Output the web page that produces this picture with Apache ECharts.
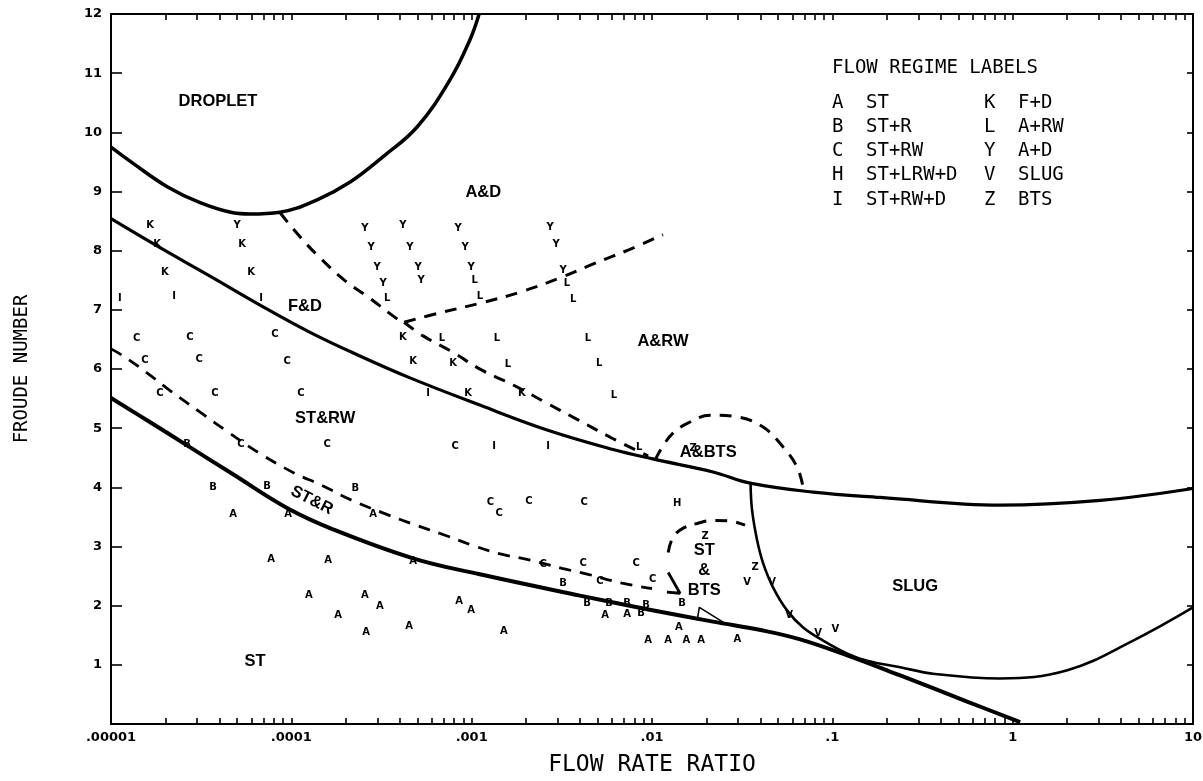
<!DOCTYPE html>
<html>
<head>
<meta charset="utf-8">
<script src="https://cdn.jsdelivr.net/npm/echarts@6/dist/echarts.min.js"></script>
<style>
html,body{margin:0;padding:0;background:#fff;}
#chart{width:1203px;height:781px;}
</style>
</head>
<body>
<div id="chart"></div>
<script>
// ---------- axis ticks ----------
const xTickValues = [1e-5, 1e-4, 1e-3, 1e-2, 1e-1, 1, 10];
const xTickLabels = ['.00001', '.0001', '.001', '.01', '.1', '1', '10'];

// ---------- boundary curves [flow rate ratio, Froude number] ----------
const dropletBoundary = [[1e-5,9.75],[1.32e-5,9.48],[2.05e-5,9.08],[3.12e-5,8.81],[4.75e-5,8.64],[5.90e-5,8.62],[8.66e-5,8.65],[1.39e-4,8.86],[2.12e-4,9.16],[3.23e-4,9.59],[4.98e-4,10.09],[7.59e-4,10.89],[9.80e-4,11.57],[1.10e-3,12.0]];
const fdBoundary = [[1e-5,8.54],[1.87e-5,8.05],[3.54e-5,7.57],[6.71e-5,7.08],[1.27e-4,6.62],[2.40e-4,6.22],[4.55e-4,5.85],[1.11e-3,5.39],[2.62e-3,4.97],[6.09e-3,4.64],[1.01e-2,4.48],[2.18e-2,4.26],[3.50e-2,4.07],[7.83e-2,3.92],[0.184,3.83],[0.852,3.70],[3.06,3.78],[10,3.98]];
const stBoundary = [[1e-5,5.51],[1.65e-5,5.10],[2.64e-5,4.71],[4.75e-5,4.22],[9.47e-5,3.65],[1.70e-4,3.29],[4.73e-4,2.80],[1.11e-3,2.53],[3.99e-3,2.17],[9.39e-3,1.94],[2.18e-2,1.73],[4.13e-2,1.58],[6.63e-2,1.43],[0.121,1.16],[0.238,0.82],[0.559,0.38],[1.10,0.03]];
const slugBoundary = [[3.52e-2,4.05],[3.59e-2,3.61],[3.83e-2,3.10],[4.13e-2,2.72],[4.69e-2,2.31],[5.61e-2,1.92],[6.89e-2,1.63],[8.89e-2,1.41],[0.121,1.19],[0.156,1.07],[0.238,0.96],[0.362,0.85],[0.852,0.77],[2.01,0.91],[4.66,1.41],[10,1.97]];
const stRDashed = [[1e-5,6.34],[1.17e-5,6.22],[1.56e-5,5.95],[2.18e-5,5.61],[3.12e-5,5.27],[4.29e-5,4.97],[6.79e-5,4.56],[1.04e-4,4.24],[1.46e-4,4.04],[2.17e-4,3.78],[3.27e-4,3.56],[4.61e-4,3.39],[7.12e-4,3.19],[1.01e-3,3.02],[1.42e-3,2.88],[2.11e-3,2.77],[3.17e-3,2.63],[4.42e-3,2.53],[6.83e-3,2.38],[1.00e-2,2.29]];
const fdDashUpper = [[8.66e-5,8.64],[1.12e-4,8.23],[1.44e-4,7.88],[1.99e-4,7.49],[2.66e-4,7.22],[3.81e-4,6.86],[4.22e-4,6.79]];
const fdDashLower = [[4.22e-4,6.79],[5.38e-4,6.56],[7.79e-4,6.29],[1.14e-3,5.98],[1.70e-3,5.73],[2.62e-3,5.42],[3.89e-3,5.14],[6.01e-3,4.83],[9.52e-3,4.53]];
const adDashBranch = [[4.22e-4,6.79],[6.68e-4,6.95],[1.14e-3,7.12],[1.86e-3,7.30],[3.09e-3,7.54],[4.84e-3,7.79],[7.37e-3,8.01],[1.15e-2,8.27]];
const aBtsArc = [[1.04e-2,4.46],[1.14e-2,4.68],[1.31e-2,4.92],[1.57e-2,5.08],[2.10e-2,5.22],[2.97e-2,5.19],[4.13e-2,5.02],[5.34e-2,4.68],[6.38e-2,4.34],[6.89e-2,4.00]];
const stBtsArc = [[1.23e-2,2.90],[1.31e-2,3.16],[1.49e-2,3.31],[1.78e-2,3.39],[2.18e-2,3.44],[2.71e-2,3.43],[3.28e-2,3.36]];
const stBtsHook = [[1.23e-2,2.56],[1.43e-2,2.21],[1.21e-2,2.23]];
const btsWedge = [[1.78e-2,1.75],[1.83e-2,1.97],[2.61e-2,1.68]];

// ---------- observed regime points ----------
const ptsA = [[4.75e-5,3.54],[9.59e-5,3.54],[2.84e-4,3.54],[7.72e-5,2.78],[1.60e-4,2.77],[4.73e-4,2.75],[1.25e-4,2.17],[2.56e-4,2.17],[3.10e-4,1.99],[1.82e-4,1.84],[2.60e-4,1.55],[4.50e-4,1.65],[8.51e-4,2.07],[9.92e-4,1.92],[1.51e-3,1.57],[5.50e-3,1.84],[7.28e-3,1.85],[1.41e-2,1.63],[9.52e-3,1.41],[1.23e-2,1.41],[1.55e-2,1.41],[1.87e-2,1.41],[2.97e-2,1.43]];
const ptsB = [[2.64e-5,4.73],[3.68e-5,4.00],[7.33e-5,4.02],[2.26e-4,3.98],[3.21e-3,2.38],[4.37e-3,2.04],[5.78e-3,2.04],[7.28e-3,2.04],[9.28e-3,2.01],[8.70e-3,1.87],[1.47e-2,2.04]];
const ptsC = [[1.39e-5,6.52],[2.74e-5,6.54],[8.12e-5,6.59],[1.54e-5,6.15],[3.08e-5,6.17],[9.47e-5,6.12],[1.87e-5,5.59],[3.77e-5,5.59],[1.13e-4,5.59],[5.26e-5,4.73],[1.58e-4,4.73],[8.09e-4,4.70],[1.27e-3,3.75],[1.42e-3,3.56],[2.08e-3,3.76],[4.20e-3,3.75],[2.49e-3,2.70],[4.15e-3,2.72],[8.16e-3,2.72],[5.15e-3,2.41],[1.01e-2,2.45]];
const ptsH = [[1.38e-2,3.73]];
const ptsI = [[1.12e-5,7.20],[2.24e-5,7.22],[6.79e-5,7.20],[5.73e-4,5.59],[1.33e-3,4.70],[2.65e-3,4.70]];
const ptsK = [[1.65e-5,8.43],[1.80e-5,8.11],[1.99e-5,7.64],[5.33e-5,8.11],[5.98e-5,7.64],[4.16e-4,6.54],[4.73e-4,6.12],[7.89e-4,6.10],[9.55e-4,5.58],[1.90e-3,5.58]];
const ptsL = [[3.40e-4,7.20],[6.85e-4,6.51],[1.04e-3,7.49],[1.11e-3,7.22],[1.38e-3,6.52],[1.59e-3,6.08],[3.38e-3,7.44],[3.65e-3,7.17],[4.42e-3,6.52],[5.09e-3,6.10],[6.16e-3,5.56],[8.48e-3,4.68]];
const ptsY = [[5.00e-5,8.43],[2.56e-4,8.37],[4.16e-4,8.43],[8.41e-4,8.37],[2.72e-3,8.40],[2.77e-4,8.05],[4.55e-4,8.05],[9.19e-4,8.05],[2.94e-3,8.10],[2.99e-4,7.71],[5.04e-4,7.71],[9.92e-4,7.71],[3.21e-3,7.66],[3.23e-4,7.45],[5.24e-4,7.49]];
const ptsV = [[3.37e-2,2.39],[4.64e-2,2.39],[5.76e-2,1.84],[8.34e-2,1.53],[0.104,1.60]];
const ptsZ = [[1.97e-2,3.17],[3.73e-2,2.65],[1.69e-2,4.66]];

// ---------- region labels ----------
const regionNames = ['DROPLET','A&D','F&D','A&RW','ST&RW','ST&R','A&BTS','ST\n&\nBTS','SLUG','ST'];
const regionX = [3.92e-5,1.16e-3,1.19e-4,1.15e-2,1.54e-4,1.30e-4,2.05e-2,1.95e-2,0.288,6.29e-5];
const regionY = [10.52,8.98,7.05,6.47,5.17,3.78,4.59,2.60,2.33,1.06];

// ---------- legend text ----------
const legendTitle = 'FLOW REGIME LABELS';
const legendCodes1 = ['A','B','C','H','I'];
const legendNames1 = ['ST','ST+R','ST+RW','ST+LRW+D','ST+RW+D'];
const legendCodes2 = ['K','L','Y','V','Z'];
const legendNames2 = ['F+D','A+RW','A+D','SLUG','BTS'];

// all tick positions (decades + 2..9 minor)
const allXTicks = [];
for (let k = -5; k <= 0; k++) {
  for (let d = 1; d <= 9; d++) allXTicks.push(+(d * Math.pow(10, k)).toPrecision(3));
}
allXTicks.push(10);

const chart = echarts.init(document.getElementById('chart'), null, {renderer: 'canvas'});

const black = '#000';
function xAxisCfg(pos, withLabels) {
  return {
    type: 'log', logBase: 10, min: 1e-5, max: 10, position: pos,
    axisLine: {show: true, onZero: false, lineStyle: {color: black, width: 2}},
    axisTick: {show: true, inside: true, length: 6, customValues: allXTicks, lineStyle: {color: black, width: 1.6}},
    minorTick: {show: false},
    splitLine: {show: false},
    axisLabel: withLabels ? {
      show: true, customValues: xTickValues, margin: 7, color: black,
      fontFamily: 'DejaVu Sans', fontWeight: 'bold', fontSize: 13,
      formatter: v => xTickLabels[Math.round(Math.log10(v)) + 5]
    } : {show: false},
    name: withLabels ? 'FLOW RATE RATIO' : '',
    nameLocation: 'middle', nameGap: 30,
    nameTextStyle: {color: black, fontFamily: 'DejaVu Sans Mono', fontSize: 23}
  };
}
function yAxisCfg(pos, withLabels) {
  return {
    type: 'value', min: 0, max: 12, interval: 1, position: pos,
    axisLine: {show: true, onZero: false, lineStyle: {color: black, width: 2}},
    axisTick: {show: true, inside: true, length: withLabels ? 11 : 6, lineStyle: {color: black, width: 1.6}},
    splitLine: {show: false},
    axisLabel: withLabels ? {
      show: true, margin: 9, color: black, fontFamily: 'DejaVu Sans', fontWeight: 'bold', fontSize: 13,
      formatter: v => (v === 0 ? '' : String(v))
    } : {show: false},
    name: withLabels ? 'FROUDE NUMBER' : '',
    nameLocation: 'middle', nameGap: 79, nameRotate: 90,
    nameTextStyle: {color: black, fontFamily: 'DejaVu Sans Mono', fontSize: 19}
  };
}

function curve(data, width, dashed, smooth) {
  return {
    type: 'line', data: data, showSymbol: false, symbol: 'none', silent: true,
    smooth: smooth === undefined ? 0.4 : smooth, z: 3, animation: false,
    lineStyle: {color: black, width: width, type: dashed ? [12, 9] : 'solid', cap: 'butt', opacity: 1}
  };
}

const letterSets = [['A',ptsA],['B',ptsB],['C',ptsC],['H',ptsH],['I',ptsI],['K',ptsK],['L',ptsL],['Y',ptsY],['V',ptsV],['Z',ptsZ]];
const letterSeries = letterSets.map(([ch, pts]) => ({
  type: 'scatter', data: pts, symbol: 'circle', symbolSize: 1, silent: true, z: 4,
  itemStyle: {color: 'rgba(0,0,0,0)', opacity: 1},
  label: {show: true, position: 'inside', formatter: ch, color: black, opacity: 1,
    fontFamily: 'DejaVu Sans', fontWeight: 'bold', fontSize: 10}
}));

const regionSeries = {
  type: 'scatter', symbol: 'circle', symbolSize: 1, silent: true, z: 5,
  itemStyle: {color: 'rgba(0,0,0,0)', opacity: 1},
  data: regionNames.map((n, i) => {
    const d = {name: n, value: [regionX[i], regionY[i]]};
    if (n === 'ST&R') d.label = {rotate: -27};
    return d;
  }),
  label: {show: true, position: 'inside', formatter: '{b}', color: black, opacity: 1,
    fontFamily: 'Liberation Sans', fontWeight: 'bold', fontSize: 16.5, lineHeight: 20}
};

const legendGraphics = [];
const legFont = '19px "DejaVu Sans Mono"';
legendGraphics.push({type: 'text', left: 832, top: 59, style: {text: legendTitle, font: legFont, fill: black}});
const rowTops = [94, 118, 142, 166, 191];
for (let i = 0; i < legendCodes1.length; i++) {
  legendGraphics.push({type: 'text', left: 832, top: rowTops[i], style: {text: legendCodes1[i], font: legFont, fill: black}});
  legendGraphics.push({type: 'text', left: 866, top: rowTops[i], style: {text: legendNames1[i], font: legFont, fill: black}});
  legendGraphics.push({type: 'text', left: 984, top: rowTops[i], style: {text: legendCodes2[i], font: legFont, fill: black}});
  legendGraphics.push({type: 'text', left: 1018, top: rowTops[i], style: {text: legendNames2[i], font: legFont, fill: black}});
}

const option = {
  animation: false,
  backgroundColor: '#fff',
  grid: {left: 111, right: 10, top: 14, bottom: 57, containLabel: false, outerBoundsMode: 'none'},
  xAxis: [xAxisCfg('bottom', true), xAxisCfg('top', false)],
  yAxis: [yAxisCfg('left', true), yAxisCfg('right', false)],
  graphic: legendGraphics,
  series: [
    curve(dropletBoundary, 3.5, false),
    curve(fdBoundary, 3.2, false),
    curve(stBoundary, 4, false),
    curve(slugBoundary, 2.6, false),
    curve(stRDashed, 2.8, true),
    curve(fdDashUpper, 3, true),
    curve(fdDashLower, 3, true),
    curve(adDashBranch, 3, true),
    curve(aBtsArc, 3, true),
    curve(stBtsArc, 3, true),
    curve(stBtsHook, 2.8, false, false),
    curve(btsWedge, 1.6, false, false),
    regionSeries
  ].concat(letterSeries)
};
chart.setOption(option);
</script>
</body>
</html>
